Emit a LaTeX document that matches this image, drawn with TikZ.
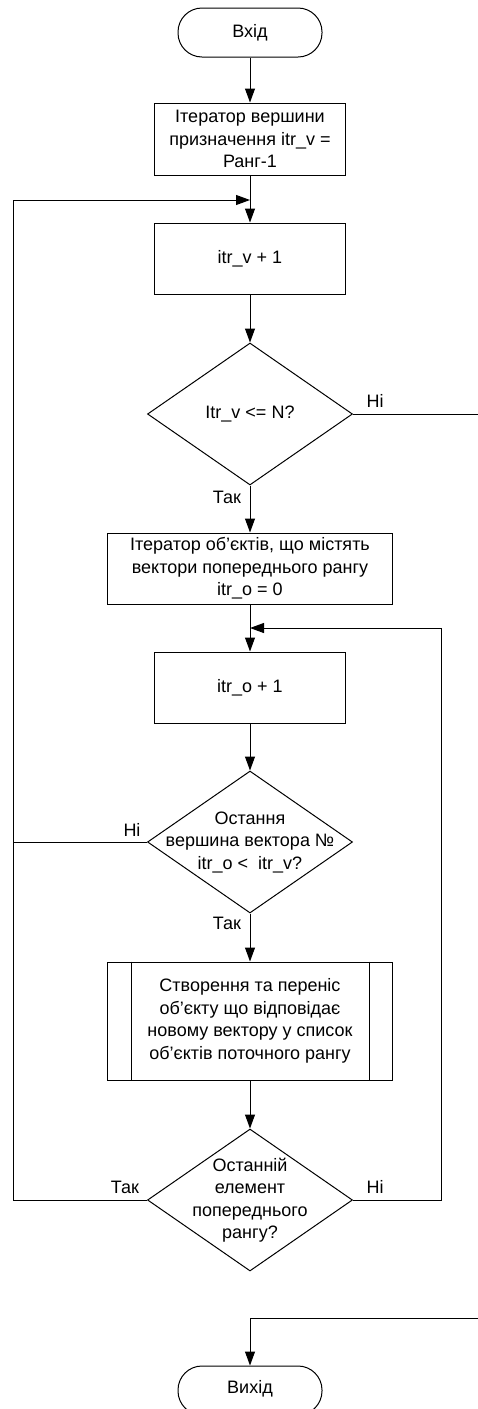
\documentclass[tikz,border=0pt]{standalone}
\usepackage{fontspec}
\setmainfont{Liberation Sans}
\usetikzlibrary{shapes.geometric,arrows.meta}
\begin{document}
\begin{tikzpicture}[x=1pt,y=-1pt,
  every node/.style={font=\fontsize{18}{22.5}\selectfont},
  line/.style={line width=1pt},
  arr/.style={line, -{Triangle[length=14pt,width=10pt]}},
  terminal/.style={draw, line width=1pt, rectangle, rounded corners=24pt,
    minimum width=144pt, minimum height=49pt, inner sep=0pt},
  proc/.style={draw, line width=1pt, rectangle, minimum width=191pt,
    minimum height=71pt, align=center, inner sep=0pt},
  wideproc/.style={proc, minimum width=285pt},
  decision/.style={draw, line width=1pt, diamond, minimum width=205pt,
    minimum height=142pt, inner sep=0pt},
  dtext/.style={align=center, inner sep=0pt},
  lbl/.style={inner sep=0pt}]
\useasboundingbox (0,0) rectangle (478,1409);
\clip (0,0) rectangle (478,1409);

% main column
\node[terminal] (start) at (250,32.5) {Вхід};
\node[proc, minimum height=72pt] (b1) at (250,139)
  {Ітератор вершини\\призначення itr\_v =\\Ранг-1};
\node[proc] (b2) at (250,258.5) {itr\_v + 1};
\node[decision] (d1) at (250,414) {};
\node[dtext] (d1t) at (d1) {Itr\_v <= N?};
\node[wideproc] (b3) at (250,568.5)
  {Ітератор об’єктів, що містять\\вектори попереднього рангу\\itr\_o = 0};
\node[proc] (b4) at (250,687.5) {itr\_o + 1};
\node[decision] (d2) at (250,842) {};
\node[dtext] (d2t) at (d2) {Остання\\вершина вектора №\\itr\_o <~ itr\_v?};
\node[wideproc, minimum height=118pt] (b5) at (250,1021)
  {Створення та переніс\\об’єкту що відповідає\\новому вектору у список\\об’єктів поточного рангу};
\draw[line] ([xshift=24pt]b5.north west) -- ([xshift=24pt]b5.south west);
\draw[line] ([xshift=-24pt]b5.north east) -- ([xshift=-24pt]b5.south east);
\node[decision] (d3) at (250,1200) {};
\node[dtext] (d3t) at (d3) {Останній\\елемент\\попереднього\\рангу?};
\node[terminal] (end) at (250,1390.5) {};
\node[lbl] (endt) at (250,1389) {Вихід};

% junctions and routing points
\coordinate (j1) at (250,200);
\coordinate (j2) at (250,628);
\coordinate (lx) at (13,200);
\coordinate (rx) at (441,628);
\coordinate (e1) at (478,414);
\coordinate (e2) at (478,1318);

% branch labels
\node[lbl] (n1) at (375,401) {Ні};
\node[lbl] (y1) at (227,497) {Так};
\node[lbl] (n2) at (132,830) {Ні};
\node[lbl] (y2) at (227,923) {Так};
\node[lbl] (y3) at (125,1187) {Так};
\node[lbl] (n3) at (375,1187) {Ні};

% connectors
\draw[arr] (start) -- (b1);
\draw[arr] (b1) -- (b2);
\draw[arr] (b2) -- (d1.north);
\draw[arr] (d1.south) -- (b3.north);
\draw[line] (d1.east) -- (e1);
\draw[arr] (b3) -- (b4);
\draw[arr] (b4) -- (d2.north);
\draw[arr] (d2.south) -- (b5.north);
\draw[line] (d2.west) -- (d2.west -| lx);
\draw[arr] (b5) -- (d3.north);
\draw[arr] (d3.west) -| (lx) -- (j1);
\draw[arr] (d3.east) -| (rx) -- (j2);
\draw[arr] (e2) -| (end.north);
\end{tikzpicture}
\end{document}
